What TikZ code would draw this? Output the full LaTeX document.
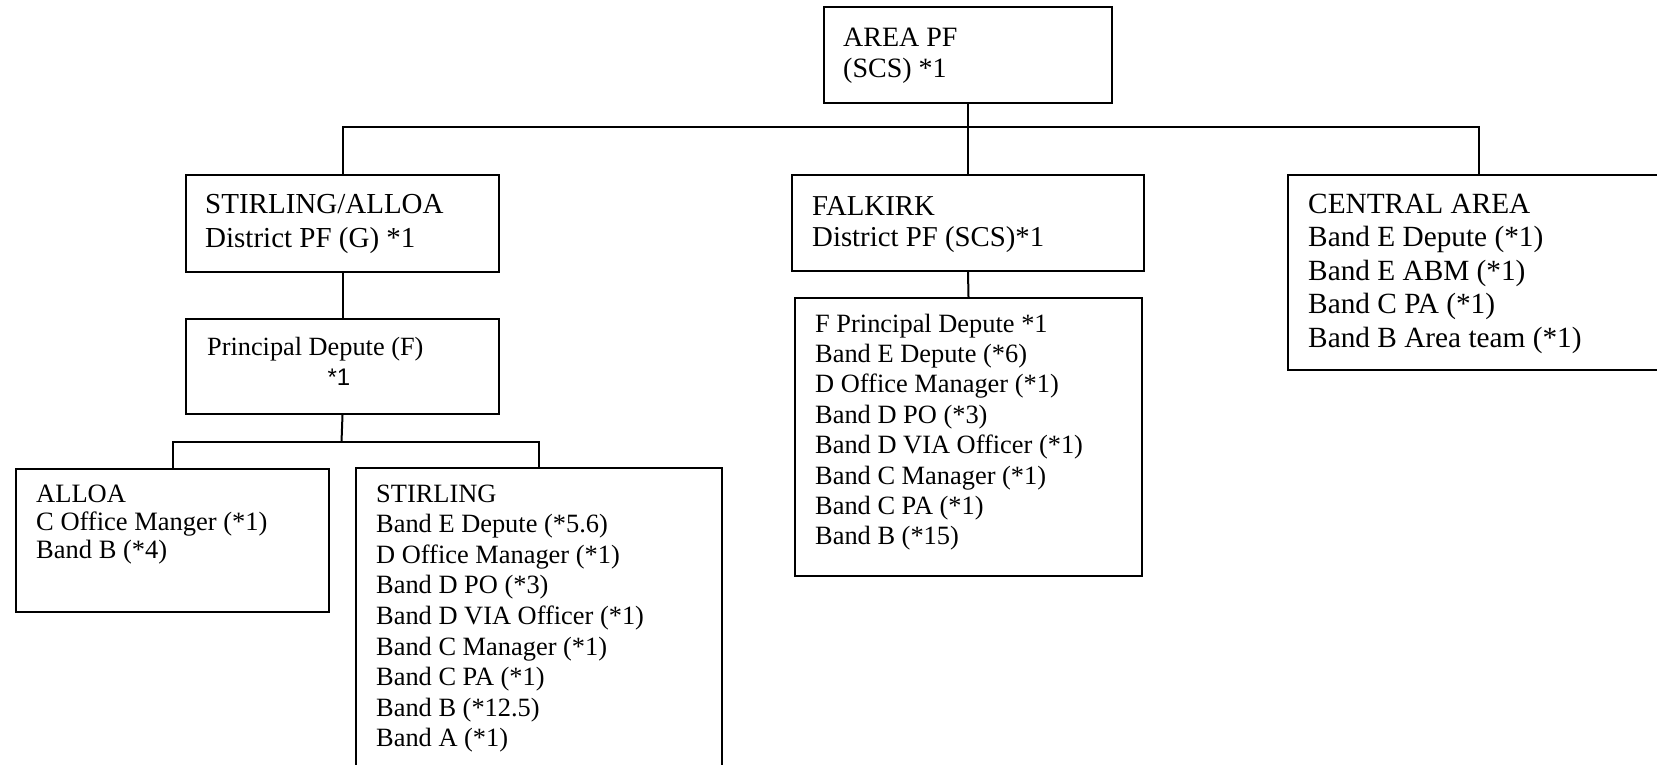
\documentclass[tikz,border=0pt]{standalone}
\usepackage{fontspec}
\setmainfont{Liberation Serif}
\newfontfamily\arialfont{Liberation Sans}
\tikzset{
  box/.style={draw, line width=2pt, rectangle, inner sep=0pt, anchor=north west},
  conn/.style={line width=2pt},
  txt/.style={anchor=base west, inner sep=0pt, align=left},
}
\newcommand{\boxat}[5]{\node[box, minimum width=#4-#2, minimum height=#5-#3] (#1) at (#2,#3) {};}
\begin{document}
\begin{tikzpicture}[x=1pt,y=-1pt]
\useasboundingbox (0,0) rectangle (1657,764);
\clip (0,0) rectangle (1657,764);
% boxes
\node[box, minimum width=288pt, minimum height=96pt] (area) at (823,6) {};
\node[box, minimum width=313pt, minimum height=97pt] (sa) at (185,174) {};
\node[box, minimum width=313pt, minimum height=95pt] (pd) at (185,318) {};
\node[box, minimum width=313pt, minimum height=143pt] (alloa) at (15,468) {};
\node[box, minimum width=366pt, minimum height=330pt] (stirling) at (355,467) {};
\node[box, minimum width=352pt, minimum height=96pt] (falkirk) at (791,174) {};
\node[box, minimum width=347pt, minimum height=278pt] (fi) at (794,297) {};
\node[box, minimum width=390pt, minimum height=195pt] (central) at (1287,174) {};
% texts
\node[txt] (tarea) at (843,46) {\fontsize{28}{31}\selectfont\vtop{\hbox{AREA PF}\hbox{(SCS) *1}}};
\node[txt] (tsa) at (205,213) {\fontsize{29}{34}\selectfont\vtop{\hbox{STIRLING/ALLOA}\hbox{District PF (G) *1}}};
\node[txt] (tpd) at (207,355) {\fontsize{26.3}{30}\selectfont Principal Depute (F)};
\node[anchor=base, inner sep=0pt] (tpdn) at (339,385) {\arialfont\fontsize{24}{28}\selectfont *1};
\node[txt] (tfalkirk) at (812,215) {\fontsize{28.8}{31}\selectfont\vtop{\hbox{FALKIRK}\hbox{District PF (SCS)*1}}};
\node[txt] (tfi) at (815,332) {\fontsize{26.4}{30.4}\selectfont\vtop{\hbox{F Principal Depute *1}\hbox{Band E Depute (*6)}\hbox{D Office Manager (*1)}\hbox{Band D PO (*3)}\hbox{Band D VIA Officer (*1)}\hbox{Band C Manager (*1)}\hbox{Band C PA (*1)}\hbox{Band B (*15)}}};
\node[txt] (tcentral) at (1308,213) {\fontsize{29.3}{33.5}\selectfont\vtop{\hbox{CENTRAL AREA}\hbox{Band E Depute (*1)}\hbox{Band E ABM (*1)}\hbox{Band C PA (*1)}\hbox{Band B Area team (*1)}}};
\node[txt] (talloa) at (36,502) {\fontsize{26.5}{28.3}\selectfont\vtop{\hbox{ALLOA}\hbox{C Office Manger (*1)}\hbox{Band B (*4)}}};
\node[txt] (tstirling) at (376,502) {\fontsize{26.4}{30.6}\selectfont\vtop{\hbox{STIRLING}\hbox{Band E Depute (*5.6)}\hbox{D Office Manager (*1)}\hbox{Band D PO (*3)}\hbox{Band D VIA Officer (*1)}\hbox{Band C Manager (*1)}\hbox{Band C PA (*1)}\hbox{Band B (*12.5)}\hbox{Band A (*1)}}};
% connectors
\coordinate (busR) at (1479,127);
\coordinate (cenIn) at (1479,174);
\coordinate (pdbus) at (341.5,442);
\draw[conn] (area.south) -- (falkirk.north);
\draw[conn] (sa.north) |- (busR) -- (cenIn);
\draw[conn] (sa.south) -- (pd.north);
\draw[conn] (pd.south) -- (pdbus);
\draw[conn] (alloa.north) |- (pdbus) -| (stirling.north);
\draw[conn] (falkirk.south) -- (fi.north);
\end{tikzpicture}
\end{document}
